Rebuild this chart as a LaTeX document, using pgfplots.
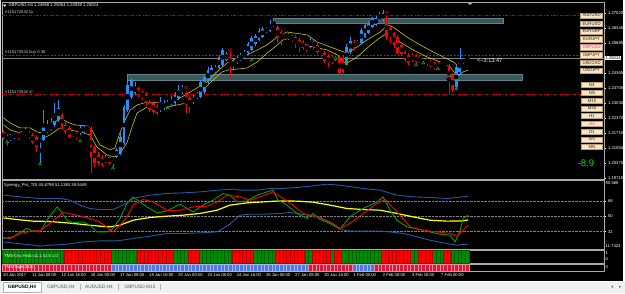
\documentclass[border=0pt]{standalone}
\usepackage{pgfplots}
\pgfplotsset{compat=1.18}
\usepackage{pgfplotstable}
\usepackage{fontspec}
\setmainfont{Liberation Sans}
\definecolor{cup}{RGB}{30,144,255}
\definecolor{cdn}{RGB}{255,0,0}
\definecolor{mayel}{RGB}{205,195,0}
\definecolor{zone}{RGB}{58,88,92}
\definecolor{zoneb}{RGB}{100,130,135}
\definecolor{tdiblue}{RGB}{30,90,160}
\definecolor{tdiyel}{RGB}{255,255,0}
\definecolor{tdigreen}{RGB}{0,160,0}
\definecolor{tdired}{RGB}{255,0,0}
\definecolor{hgreen}{RGB}{0,140,0}
\definecolor{hgreenb}{RGB}{0,95,0}
\definecolor{tred}{RGB}{220,25,60}
\definecolor{tredb}{RGB}{240,140,155}
\definecolor{tblue}{RGB}{80,120,225}
\definecolor{tblueb}{RGB}{160,185,240}
\definecolor{btn}{RGB}{246,230,196}
\definecolor{btnb}{RGB}{190,160,120}
\definecolor{mag}{RGB}{255,40,220}
\definecolor{frame}{RGB}{170,170,170}
\definecolor{lblgray}{RGB}{205,205,205}
\definecolor{sigg}{RGB}{40,170,40}
\definecolor{tabbg}{RGB}{240,240,240}
\newcommand\tf{\fontsize{4.2}{4.6}\selectfont}
\newcommand\btf{\fontsize{4.3}{4.6}\selectfont}

\pgfplotstableread{
i o h l c
0 1.2176 1.2185 1.2141 1.2149
1 1.2154 1.2167 1.2114 1.2141
2 1.2145 1.2167 1.2136 1.2158
3 1.2154 1.2172 1.2145 1.2163
4 1.2163 1.2176 1.2145 1.2154
5 1.2154 1.2180 1.2149 1.2167
6 1.2163 1.2198 1.2158 1.2176
7 1.2172 1.2180 1.2145 1.2154
8 1.2163 1.2172 1.2123 1.2132
9 1.2154 1.2163 1.2088 1.2110
10 1.2136 1.2149 1.2039 1.2141
11 1.2141 1.2273 1.2136 1.2202
12 1.2176 1.2229 1.2172 1.2194
13 1.2185 1.2238 1.2180 1.2207
14 1.2207 1.2304 1.2198 1.2260
15 1.2229 1.2317 1.2220 1.2282
16 1.2251 1.2260 1.2189 1.2198
17 1.2207 1.2220 1.2167 1.2176
18 1.2194 1.2202 1.2149 1.2154
19 1.2176 1.2185 1.2154 1.2163
20 1.2172 1.2180 1.2145 1.2154
21 1.2172 1.2202 1.2163 1.2194
22 1.2176 1.2207 1.2172 1.2198
23 1.2185 1.2202 1.2180 1.2198
24 1.2194 1.2202 1.1995 1.2066
25 1.2110 1.2119 1.2022 1.2039
26 1.2074 1.2088 1.2026 1.2039
27 1.2066 1.2074 1.2022 1.2030
28 1.2048 1.2074 1.2039 1.2061
29 1.2066 1.2074 1.2030 1.2039
30 1.2048 1.2061 1.2026 1.2052
31 1.2066 1.2105 1.2061 1.2097
32 1.2083 1.2172 1.2074 1.2154
33 1.2127 1.2295 1.2119 1.2286
34 1.2273 1.2405 1.2264 1.2383
35 1.2330 1.2414 1.2321 1.2405
36 1.2348 1.2396 1.2339 1.2374
37 1.2370 1.2374 1.2330 1.2339
38 1.2352 1.2361 1.2317 1.2330
39 1.2344 1.2352 1.2295 1.2304
40 1.2308 1.2317 1.2264 1.2273
41 1.2304 1.2313 1.2255 1.2264
42 1.2291 1.2299 1.2251 1.2260
43 1.2273 1.2330 1.2264 1.2291
44 1.2282 1.2317 1.2273 1.2299
45 1.2291 1.2317 1.2282 1.2304
46 1.2295 1.2335 1.2286 1.2317
47 1.2304 1.2352 1.2291 1.2339
48 1.2326 1.2383 1.2317 1.2361
49 1.2352 1.2383 1.2344 1.2370
50 1.2348 1.2357 1.2260 1.2295
51 1.2326 1.2335 1.2260 1.2291
52 1.2308 1.2339 1.2299 1.2330
53 1.2326 1.2352 1.2321 1.2344
54 1.2330 1.2405 1.2326 1.2396
55 1.2352 1.2427 1.2344 1.2418
56 1.2396 1.2463 1.2388 1.2449
57 1.2418 1.2471 1.2410 1.2458
58 1.2441 1.2471 1.2432 1.2463
59 1.2458 1.2516 1.2449 1.2507
60 1.2471 1.2546 1.2467 1.2538
61 1.2493 1.2529 1.2489 1.2520
62 1.2507 1.2529 1.2418 1.2476
63 1.2467 1.2493 1.2458 1.2485
64 1.2480 1.2511 1.2476 1.2502
65 1.2493 1.2524 1.2489 1.2511
66 1.2507 1.2538 1.2502 1.2524
67 1.2524 1.2573 1.2516 1.2564
68 1.2538 1.2599 1.2533 1.2590
69 1.2564 1.2608 1.2555 1.2599
70 1.2582 1.2635 1.2577 1.2621
71 1.2595 1.2639 1.2590 1.2630
72 1.2617 1.2639 1.2613 1.2635
73 1.2621 1.2670 1.2617 1.2652
74 1.2648 1.2665 1.2639 1.2661
75 1.2639 1.2648 1.2568 1.2595
76 1.2617 1.2626 1.2560 1.2590
77 1.2608 1.2613 1.2582 1.2590
78 1.2590 1.2613 1.2582 1.2604
79 1.2599 1.2604 1.2573 1.2582
80 1.2595 1.2604 1.2546 1.2568
81 1.2582 1.2590 1.2529 1.2551
82 1.2573 1.2582 1.2538 1.2546
83 1.2560 1.2564 1.2529 1.2538
84 1.2551 1.2595 1.2546 1.2577
85 1.2573 1.2582 1.2542 1.2551
86 1.2560 1.2568 1.2520 1.2529
87 1.2538 1.2546 1.2507 1.2516
88 1.2524 1.2533 1.2480 1.2489
89 1.2511 1.2520 1.2463 1.2480
90 1.2507 1.2516 1.2476 1.2485
91 1.2493 1.2524 1.2489 1.2516
92 1.2507 1.2516 1.2414 1.2436
93 1.2502 1.2511 1.2414 1.2441
94 1.2480 1.2564 1.2471 1.2551
95 1.2529 1.2595 1.2520 1.2577
96 1.2573 1.2582 1.2538 1.2546
97 1.2560 1.2582 1.2555 1.2573
98 1.2568 1.2635 1.2564 1.2626
99 1.2595 1.2657 1.2590 1.2648
100 1.2613 1.2665 1.2608 1.2657
101 1.2639 1.2683 1.2635 1.2679
102 1.2648 1.2687 1.2643 1.2679
103 1.2670 1.2705 1.2665 1.2692
104 1.2670 1.2714 1.2661 1.2701
105 1.2679 1.2687 1.2582 1.2595
106 1.2635 1.2643 1.2568 1.2595
107 1.2613 1.2617 1.2546 1.2560
108 1.2595 1.2604 1.2516 1.2524
109 1.2560 1.2568 1.2511 1.2520
110 1.2529 1.2538 1.2485 1.2493
111 1.2516 1.2524 1.2471 1.2480
112 1.2516 1.2524 1.2485 1.2493
113 1.2511 1.2520 1.2476 1.2485
114 1.2507 1.2511 1.2480 1.2485
115 1.2480 1.2502 1.2476 1.2493
116 1.2498 1.2507 1.2467 1.2476
117 1.2489 1.2498 1.2463 1.2467
118 1.2480 1.2485 1.2449 1.2458
119 1.2476 1.2485 1.2454 1.2458
120 1.2467 1.2485 1.2463 1.2480
121 1.2471 1.2480 1.2467 1.2476
122 1.2467 1.2476 1.2339 1.2405
123 1.2427 1.2436 1.2352 1.2361
124 1.2374 1.2471 1.2365 1.2463
125 1.2441 1.2546 1.2427 1.2493
126 1.2485 1.2502 1.2476 1.2493
127 1.24958 1.25054 1.24939 1.25024
}\candles

\pgfplotstableread[row sep=\\]{
i h t\\
0 1 0\\ 1 1 0\\ 2 1 0\\ 3 1 0\\ 4 1 0\\ 5 1 0\\ 6 1 0\\ 7 1 0\\ 8 1 0\\ 9 1 0\\
10 1 0\\ 11 1 0\\ 12 1 0\\ 13 1 0\\ 14 1 0\\ 15 1 0\\ 16 1 0\\ 17 0 0\\ 18 0 0\\ 19 0 0\\
20 0 0\\ 21 0 0\\ 22 0 0\\ 23 0 0\\ 24 0 0\\ 25 0 0\\ 26 0 0\\ 27 0 0\\ 28 0 0\\ 29 0 0\\
30 1 1\\ 31 1 1\\ 32 1 1\\ 33 1 1\\ 34 1 1\\ 35 1 1\\ 36 1 1\\ 37 0 1\\ 38 0 1\\ 39 0 1\\
40 0 1\\ 41 0 1\\ 42 0 1\\ 43 0 1\\ 44 0 1\\ 45 0 1\\ 46 0 1\\ 47 1 1\\ 48 1 1\\ 49 1 1\\
50 1 1\\ 51 0 1\\ 52 0 1\\ 53 0 1\\ 54 1 1\\ 55 1 1\\ 56 1 1\\ 57 1 1\\ 58 1 1\\ 59 1 1\\
60 1 1\\ 61 1 1\\ 62 1 1\\ 63 0 1\\ 64 0 1\\ 65 0 1\\ 66 0 1\\ 67 0 1\\ 68 0 1\\ 69 1 1\\
70 1 1\\ 71 1 1\\ 72 1 1\\ 73 1 1\\ 74 1 1\\ 75 0 1\\ 76 0 1\\ 77 0 1\\ 78 0 1\\ 79 0 1\\
80 0 1\\ 81 0 1\\ 82 0 1\\ 83 1 1\\ 84 1 0\\ 85 0 0\\ 86 0 0\\ 87 0 0\\ 88 0 0\\ 89 0 0\\
90 1 0\\ 91 0 0\\ 92 0 0\\ 93 1 0\\ 94 1 0\\ 95 1 0\\ 96 1 1\\ 97 1 1\\ 98 1 1\\ 99 1 1\\
100 1 1\\ 101 1 1\\ 102 1 0\\ 103 1 0\\ 104 0 0\\ 105 0 0\\ 106 0 0\\ 107 0 0\\ 108 0 0\\ 109 0 0\\
110 0 0\\ 111 0 0\\ 112 1 0\\ 113 1 0\\ 114 0 0\\ 115 0 0\\ 116 0 0\\ 117 0 0\\ 118 1 0\\ 119 1 0\\
120 1 0\\ 121 0 0\\ 122 0 0\\ 123 1 0\\ 124 1 0\\ 125 1 0\\ 126 1 0\\ 127 1 0\\
}\strips

\begin{document}
\begin{tikzpicture}[x=1pt,y=1pt]
\fill[black] (0pt,0pt) rectangle (625pt,293pt);

% ---------------- main price panel ----------------
\begin{axis}[at={(2pt,290.3pt)}, anchor=north west, scale only axis,
  width=602pt, height=176.6pt,
  xmin=-0.41, xmax=164.5, ymin=1.19673, ymax=1.27461,
  axis line style={draw=frame, line width=0.7pt},
  xtick=\empty,
  ytick={1.27020,1.26345,1.25685,1.24365,1.23705,1.23030,1.22370,1.21710,1.21050,1.20375,1.19715},
  yticklabels={1.27020,1.26345,1.25685,1.24365,1.23705,1.23030,1.22370,1.21710,1.21050,1.20375,1.19715},
  ytick pos=right, yticklabel pos=right,
  tick align=outside, major tick length=1.5pt,
  tick style={white, line width=0.4pt},
  yticklabel style={font=\tf, text=white, anchor=west, xshift=-1pt},
  clip=true]
% zones
\addplot[fill=zone, draw=zoneb, line width=0.5pt] coordinates {(73.8,1.2657)(136.8,1.2657)(136.8,1.2676)(73.8,1.2676)} -- cycle;
\addplot[fill=zone, draw=zoneb, line width=0.5pt] coordinates {(33.8,1.2405)(142.0,1.2405)(142.0,1.2429)(33.8,1.2429)} -- cycle;
% order lines
\addplot[color=red!80!black, line width=0.6pt, dash pattern=on 3pt off 1.5pt on 0.8pt off 1.5pt] coordinates {(-0.41,1.26918)(164.5,1.26918)};
\addplot[color=red!80!black, line width=0.6pt, dash pattern=on 3pt off 1.5pt on 0.8pt off 1.5pt] coordinates {(-0.41,1.23422)(164.5,1.23422)};
\addplot[color=green!45!black, line width=0.6pt, dash pattern=on 2pt off 1.5pt] coordinates {(-0.41,1.25155)(164.5,1.25155)};
\addplot[color=gray, line width=0.6pt] coordinates {(-0.41,1.25024)(164.5,1.25024)};
% yellow envelope
\addplot[color=mayel, line width=0.6pt] coordinates {(0,1.2238)(1.8,1.2216)(4.5,1.2194)(7.3,1.2194)(9.2,1.2176)(10.5,1.2172)(12.7,1.2198)(15.5,1.2238)(17.4,1.2220)(19.6,1.2207)(23.2,1.2202)(24.2,1.2185)(26.4,1.2119)(29.2,1.2097)(30.5,1.2105)(31.9,1.2172)(33.3,1.2229)(34.7,1.2273)(36.6,1.2295)(39.3,1.2308)(42.9,1.2304)(44.8,1.2295)(48.4,1.2326)(53,1.2370)(55.8,1.2396)(58.5,1.2441)(61.2,1.2480)(64,1.2502)(66.7,1.2516)(69.5,1.2538)(72.2,1.2560)(74.9,1.2595)(77.7,1.2617)(79.3,1.2613)(83.2,1.2604)(85.9,1.2573)(90.3,1.2546)(94.1,1.2524)(96.9,1.2551)(99.6,1.2582)(103.2,1.2617)(105.3,1.2648)(106.7,1.2639)(110.5,1.2595)(114.1,1.2560)(117.7,1.2529)(120.4,1.2507)(123.2,1.2485)(124.2,1.2471)};
\addplot[color=mayel, line width=0.6pt] coordinates {(0,1.2207)(1.8,1.2185)(4.5,1.2172)(7.3,1.2163)(10,1.2141)(12.7,1.2163)(15.5,1.2194)(18.2,1.2185)(21,1.2176)(23.7,1.2163)(25.6,1.2110)(28.4,1.2074)(30.5,1.2066)(31.9,1.2083)(33.8,1.2127)(35.2,1.2198)(36.6,1.2260)(39.3,1.2286)(43.7,1.2282)(47.5,1.2295)(50.3,1.2304)(53,1.2335)(57.4,1.2405)(59.9,1.2441)(61.5,1.2449)(66.7,1.2458)(69.5,1.2485)(72.2,1.2524)(74.4,1.2551)(76.6,1.2582)(78.5,1.2590)(81.2,1.2568)(84.8,1.2551)(88.6,1.2538)(91.4,1.2516)(93,1.2485)(94.1,1.2480)(96.9,1.2507)(99.6,1.2546)(102.3,1.2582)(105.1,1.2613)(106.7,1.2604)(108.6,1.2573)(112.2,1.2538)(116,1.2507)(119.6,1.2485)(122.3,1.2463)(123.7,1.2436)(124.5,1.2423)(125.9,1.2441)(127.3,1.2449)};
% candles: wicks
\addplot[only marks, mark=none, x filter/.expression={\thisrow{c}>=\thisrow{o} ? x : nan},
  error bars/.cd, y dir=both, y explicit, error mark=none, error bar style={cup, line width=0.6pt}]
  table[x=i, y expr=(\thisrow{h}+\thisrow{l})/2, y error expr=(\thisrow{h}-\thisrow{l})/2]{\candles};
\addplot[only marks, mark=none, x filter/.expression={\thisrow{c}<\thisrow{o} ? x : nan},
  error bars/.cd, y dir=both, y explicit, error mark=none, error bar style={cdn, line width=0.6pt}]
  table[x=i, y expr=(\thisrow{h}+\thisrow{l})/2, y error expr=(\thisrow{h}-\thisrow{l})/2]{\candles};
% candles: bodies
\addplot[only marks, mark=none, x filter/.expression={\thisrow{c}>=\thisrow{o} ? x : nan},
  error bars/.cd, y dir=both, y explicit, error mark=none, error bar style={cup, line width=2.7pt}]
  table[x=i, y expr=(\thisrow{o}+\thisrow{c})/2, y error expr=abs(\thisrow{c}-\thisrow{o})/2+0.00005]{\candles};
\addplot[only marks, mark=none, x filter/.expression={\thisrow{c}<\thisrow{o} ? x : nan},
  error bars/.cd, y dir=both, y explicit, error mark=none, error bar style={cdn, line width=2.7pt}]
  table[x=i, y expr=(\thisrow{o}+\thisrow{c})/2, y error expr=abs(\thisrow{c}-\thisrow{o})/2+0.00005]{\candles};
% signal arrows
\addplot[only marks, mark=triangle, mark size=1.8pt, color=sigg, line width=0.5pt] coordinates {(1,1.2132)(10,1.2035)(21,1.2136)(30,1.2017)(45,1.2282)(68,1.2493)(91,1.2500)(113,1.2471)(115,1.2480)(119,1.2454)(124,1.2365)};
\addplot[only marks, mark=square, mark size=1pt, color=sigg, line width=0.5pt] coordinates {(94,1.2480)};
\addplot[only marks, mark=triangle, mark size=1.8pt, mark options={rotate=180}, color=red!85!black, line width=0.5pt] coordinates {(37,1.2365)(50,1.2374)(62,1.2538)(105,1.2705)};
\end{axis}

% ---------------- TDI panel ----------------
\begin{axis}[at={(2pt,112.5pt)}, anchor=north west, scale only axis,
  width=602pt, height=69pt,
  xmin=-0.41, xmax=164.5, ymin=11.04, ymax=91.74,
  axis line style={draw=frame, line width=0.7pt},
  xtick=\empty, ytick={32,50,68}, yticklabels={32,50,68},
  ytick pos=right, yticklabel pos=right,
  tick align=outside, major tick length=1.5pt,
  tick style={white, line width=0.4pt},
  yticklabel style={font=\tf, text=white, anchor=west, xshift=-1pt},
  clip=true]
\addplot[color=gray, densely dotted, line width=0.4pt] coordinates {(-0.41,68)(164.5,68)};
\addplot[color=gray, densely dotted, line width=0.4pt] coordinates {(-0.41,50)(164.5,50)};
\addplot[color=gray, densely dotted, line width=0.4pt] coordinates {(-0.41,32)(164.5,32)};
\addplot[color=tdiblue, line width=0.9pt] coordinates {(0,74.6)(4.5,72.6)(10,70.7)(15.5,70.7)(18.2,68.7)(21,62.9)(23.7,59.0)(26.4,57.8)(30,57.8)(32.7,62.9)(35.5,70.7)(40.1,74.6)(44.8,76.6)(49.2,77.3)(53.8,78.4)(58.5,80.4)(62.9,81.6)(64.8,80.4)(69.5,80.4)(73,82.4)(76.6,82.4)(80.4,83.6)(84,85.1)(88.6,87.4)(91.4,86.6)(94.1,85.1)(98.5,82.4)(103.2,80.4)(107.8,74.6)(112.2,72.6)(116.8,71.9)(121.5,70.7)(125.9,72.6)(127.3,73.4)};
\addplot[color=tdiblue, line width=0.9pt] coordinates {(0,19.9)(3.7,18.1)(8.1,16.1)(10,14.9)(12.7,16.1)(17.4,17.2)(21.8,19.9)(26.4,21.1)(31.1,21.1)(35.5,23.9)(40.1,26.6)(44.8,29.8)(49.2,29.8)(53.8,30.5)(58.5,31.6)(62,40.6)(64.8,51.2)(67.5,52.3)(71.1,52.3)(75.7,53.2)(78.5,54.3)(80.4,53.2)(83.2,51.2)(86.7,49.2)(89.5,41.5)(92.2,35.6)(94.1,32.8)(98.5,32.5)(103.2,32.5)(105.9,31.6)(109.5,29.8)(113.3,25.8)(116.8,21.9)(120.4,18.8)(124.2,16.1)(125.9,16.9)(127.3,17.2)};
\addplot[color=tdiyel, line width=1.2pt] coordinates {(0,48)(3.7,46.1)(8.1,44.2)(12.7,43.8)(17.4,42.2)(21.8,40.3)(26.4,38.3)(29.2,37.5)(31.9,39.5)(35.5,45.3)(40.1,48.5)(44.8,50)(49.2,51.2)(53.8,53.2)(58.5,57)(62,62.9)(66.7,65.6)(71.1,66.7)(75.7,67.9)(80.4,67.6)(84.8,66.4)(89.5,62.9)(94.1,59)(98.5,57.8)(103.2,57)(107.8,53.2)(112.2,49.2)(116.8,45.3)(121.5,44.2)(125.9,44.5)(127.3,45.7)};
\addplot[color=tdigreen, line width=0.9pt] coordinates {(0,23.9)(2.6,25.8)(6.4,35.6)(8.1,32.8)(10,31.6)(11.9,45.3)(13.3,53.2)(14.7,60.9)(15.5,57)(17.4,45.3)(19,42.2)(21.8,43.3)(23.7,39.5)(25.6,31.6)(28.4,31.6)(30,35.6)(31.9,47.3)(33.8,64.9)(35.5,72.6)(37.4,66.7)(39.3,60.9)(42.1,53.9)(44.8,56.2)(48.4,64)(50.3,59)(52,55)(54.7,62.9)(57.4,68.7)(60.1,76.6)(62,74.6)(64,66.7)(66.7,67.9)(69.5,74.6)(72.2,78.4)(73.8,80.4)(75.2,68.7)(77.7,62.9)(80.4,53.2)(83.2,47.3)(84.8,53.2)(86.7,46.1)(89.5,41.5)(92.2,34.8)(94.9,49.2)(98.5,59)(102.3,66.7)(104,72.6)(105.9,57)(107.8,45.3)(110.5,37.5)(114.1,34.4)(116.8,31.6)(119.6,28.9)(122.3,27.8)(123.7,19.9)(125.1,33.6)(125.9,47.3)(127.3,51.1)};
\addplot[color=tdired, line width=0.9pt] coordinates {(0,25.1)(1.8,23.9)(4.5,29.8)(8.1,32.8)(10,32.8)(12.7,41.5)(16.3,54.3)(20.1,51.2)(23.7,47.3)(26.4,43.3)(29.2,34.4)(30,31.6)(31.9,39.5)(33.8,49.2)(35.5,62.9)(38.2,69.5)(41,66.7)(44.8,57)(47.5,56.2)(50.3,59)(52,60.9)(55.8,61.7)(58.5,66.7)(61.2,74.6)(64.8,72.6)(67.5,68.7)(70.3,72.6)(73.8,78.4)(76.6,70.7)(79.3,62.9)(82.1,53.2)(85.9,49.2)(89.5,43.3)(92.2,35.6)(94.9,41.5)(98.5,53.2)(102.3,64.9)(104.5,69.5)(107.8,55)(111.4,37.5)(114.9,33.6)(118.8,31.6)(122.3,29.8)(124.2,26.6)(125.9,33.6)(127.3,39.5)};
\end{axis}

% ---------------- TMS-Osc histogram ----------------
\begin{axis}[at={(2pt,42.5pt)}, anchor=north west, scale only axis,
  width=602pt, height=12.5pt,
  xmin=-0.41, xmax=164.5, ymin=0, ymax=1,
  axis line style={draw=frame, line width=0.7pt},
  xtick=\empty, ytick=\empty, clip=true]
\addplot[ybar, bar width=3.65pt, bar shift=0pt, fill=hgreen, draw=hgreenb, line width=0.3pt,
  y filter/.expression={y<0.5 ? nan : y}] table[x=i, y=h]{\strips};
\addplot[ybar, bar width=3.65pt, bar shift=0pt, fill=red, draw=red!70!black, line width=0.3pt,
  y filter/.expression={y<0.5 ? nan : y}] table[x=i, y expr=1-\thisrow{h}]{\strips};
\end{axis}

% ---------------- TMS tape ----------------
\begin{axis}[at={(2pt,29pt)}, anchor=north west, scale only axis,
  width=602pt, height=7pt,
  xmin=-0.41, xmax=164.5, ymin=0, ymax=1,
  axis line style={draw=frame, line width=0.7pt},
  xtick=\empty, ytick=\empty, clip=true]
\addplot[ybar, bar width=3.65pt, bar shift=0pt, fill=tblue, draw=tblueb, line width=0.2pt,
  y filter/.expression={y<0.5 ? nan : y}] table[x=i, y=t]{\strips};
\addplot[ybar, bar width=3.65pt, bar shift=0pt, fill=tred, draw=tredb, line width=0.2pt,
  y filter/.expression={y<0.5 ? nan : y}] table[x=i, y expr=1-\thisrow{t}]{\strips};
\end{axis}

% ---------------- texts & overlays ----------------
\fill[white] (3,288.4) -- (6.4,288.4) -- (4.7,286.2) -- cycle;
\node[anchor=west, font=\tf, text=white, inner sep=0] at (8.5,287.2) {GBPUSD,H4 1.24958 1.25054 1.24939 1.25024};
\node[anchor=west, font=\tf, text=lblgray, inner sep=0] at (5,280.6) {\#115172542 tp};
\node[anchor=west, font=\tf, text=lblgray, inner sep=0] at (5,240.4) {\#115172542 buy 0.38};
\node[anchor=west, font=\tf, text=lblgray, inner sep=0] at (5,201.2) {\#115172542 sl};
\node[anchor=west, font=\fontsize{5.6}{6}\selectfont, text=white, inner sep=0] at (477,232) {<--3:13:47};
\fill[gray!70] (467.5,290.2) -- (472.5,290.2) -- (470,287.8) -- cycle;
\node[anchor=west, fill=white, text=black, font=\tf, inner sep=0.7pt] at (604.6,235.04) {1.25024};
% symbol buttons
\foreach \yy/\t in {15.5/AUDUSD,23.6/EURUSD,31.5/EURGBP,39.3/EURJPY,55/GBPJPY,62.7/USDCAD,70.5/USDJPY}
  \node[draw=btnb, fill=btn, line width=0.3pt, minimum width=22pt, minimum height=5.6pt, inner sep=0pt, font=\btf, text=black!85] at (591.6,293-\yy) {\t};
\node[draw=btnb, fill=btn, line width=0.3pt, minimum width=22pt, minimum height=5.6pt, inner sep=0pt, font=\btf, text=mag] at (591.6,293-47.2) {GBPUSD};
% timeframe buttons
\foreach \yy/\t in {85/M1,93/M5,100.7/M15,108.4/M30,116/H1,131.7/D1,139.4/W1,147/MN}
  \node[draw=btnb, fill=btn, line width=0.3pt, minimum width=21pt, minimum height=5pt, inner sep=0pt, font=\btf, text=black!85] at (592,293-\yy) {\t};
\node[draw=btnb, fill=btn, line width=0.3pt, minimum width=21pt, minimum height=5pt, inner sep=0pt, font=\btf, text=mag] at (592,293-123.7) {H4};
\node[font=\fontsize{9.5}{10}\selectfont, text={rgb,255:red,30;green,210;blue,30}, inner sep=0] at (586,130) {-8.9};
% TDI texts
\node[anchor=west, font=\tf, text=white, inner sep=0] at (4,107.6) {Synergy\_Pro\_TDI 45.6798 51.1383 39.5449};
\node[anchor=west, font=\tf, text=white, inner sep=0] at (605.5,110.2) {90.568};
\node[anchor=west, font=\tf, text=white, inner sep=0] at (605.5,47) {11.7424};
\node[anchor=west, font=\tf, text=white, inner sep=0] at (4,37) {TMS-Osc Histo 11.1 41.5 1.0};
\node[anchor=west, font=\tf, text=white, inner sep=0] at (4,25.5) {TMS-Tape (D1)};
\node[anchor=west, font=\tf, text=white, inner sep=0] at (605.5,39.7) {1};
\node[anchor=west, font=\tf, text=white, inner sep=0] at (605.5,34.4) {0};
\node[anchor=west, font=\tf, text=white, inner sep=0] at (605.5,26) {0};
% time labels
\foreach \k/\t in {0/10 Jan 2017,1/11 Jan 08:00,2/12 Jan 16:00,3/16 Jan 00:00,4/17 Jan 08:00,5/18 Jan 16:00,6/20 Jan 00:00,7/23 Jan 08:00,8/24 Jan 16:00,9/26 Jan 00:00,10/27 Jan 08:00,11/30 Jan 16:00,12/1 Feb 00:00,13/2 Feb 08:00,14/3 Feb 16:00,15/7 Feb 00:00}
  \node[anchor=west, font=\tf, text=white, inner sep=0] at ({3+29.2*\k},17.8) {\t};
% borders & tabs
\fill[white] (622.8,12) rectangle (625,293);
\fill[white!85!black] (0,12) rectangle (0.8,293);
\fill[tabbg] (0,0) rectangle (625,12);
\draw[white, line width=1pt] (0,12) -- (625,12);
\filldraw[fill=white, draw=gray!60, line width=0.4pt] (3,1.3) rectangle (41,11.3);
\node[font=\fontsize{4.8}{5}\selectfont\bfseries, text=black] at (22,6.3) {GBPUSD,H4};
\node[font=\fontsize{4.8}{5}\selectfont, text=black!65] at (61,6.3) {GBPUSD,H4};
\node[font=\fontsize{4.8}{5}\selectfont, text=black!65] at (99,6.3) {AUDUSD,H4};
\node[font=\fontsize{4.8}{5}\selectfont, text=black!65] at (140,6.3) {GBPUSD,M15};
\foreach \xx in {80.5,118.5,160.5} \draw[gray!60, line width=0.4pt] (\xx,3.5) -- (\xx,9);
\fill[gray] (611,6.3) -- (613,7.6) -- (613,5) -- cycle;
\fill[gray] (621,6.3) -- (619,7.6) -- (619,5) -- cycle;
\pgfresetboundingbox
\useasboundingbox (0pt,0pt) rectangle (625pt,293pt);
\end{tikzpicture}
\end{document}
